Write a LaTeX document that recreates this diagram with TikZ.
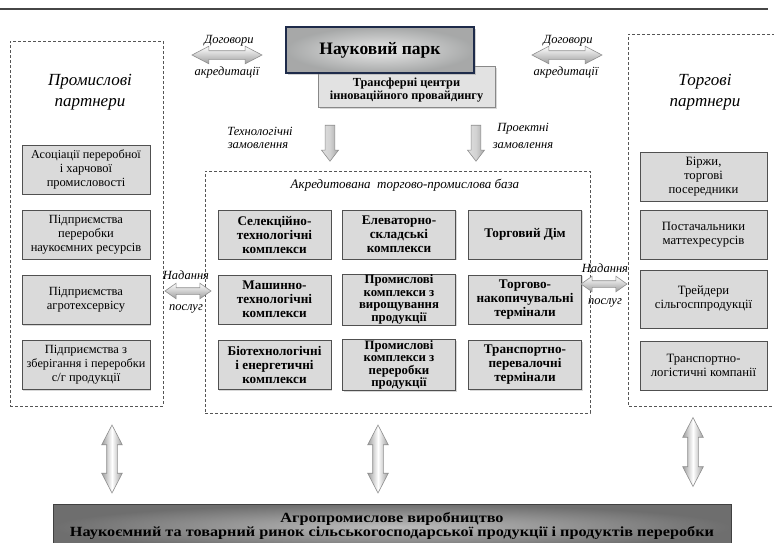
\documentclass[tikz,border=0pt]{standalone}
\usepackage{fontspec}
\setmainfont{Liberation Serif}
\usetikzlibrary{shapes.arrows,shadows}
\definecolor{boxfill}{HTML}{DADADA}
\definecolor{boxline}{HTML}{505050}
\definecolor{navy}{HTML}{1E2B4A}
\definecolor{dashcol}{HTML}{555555}
\definecolor{arrowline}{HTML}{8F8F8F}
\definecolor{arrowdark}{HTML}{9E9E9E}
\definecolor{basedark}{HTML}{6E6E6E}
\definecolor{scifill}{HTML}{C4C6C6}
\definecolor{trfill}{HTML}{E2E2E2}
\newcommand{\stk}[1]{\begin{tabular}{@{}c@{}}#1\end{tabular}}
\tikzset{
 gbox/.style={draw=boxline, line width=0.8pt, fill=boxfill, align=center, inner sep=1pt,
   drop shadow={shadow xshift=1.2pt, shadow yshift=-1.2pt, opacity=0.3}},
 cbox/.style={gbox, minimum width=113pt, minimum height=49pt, font=\fontsize{13.2}{14}\selectfont\bfseries},
 cboxf/.style={cbox, font=\fontsize{12.8}{12.4}\selectfont\bfseries},
 lbox/.style={gbox, minimum width=128pt, minimum height=49pt, font=\fontsize{12.5}{14}\selectfont},
 rbox/.style={gbox, minimum width=127pt, minimum height=49pt, font=\fontsize{12.7}{14}\selectfont},
 zone/.style={draw=dashcol, dash pattern=on 3pt off 2pt, line width=0.7pt, inner sep=0pt},
 lbl/.style={font=\fontsize{12.5}{14}\selectfont\itshape, inner sep=0pt},
 ptitle/.style={font=\fontsize{17}{21}\selectfont\itshape, align=center, inner sep=0pt},
 harrow/.style={double arrow, draw=arrowline, line width=0.6pt, top color=white, bottom color=arrowdark,
   inner xsep=0pt, inner ysep=4pt, double arrow head extend=4.5pt, minimum width=17pt, double arrow tip angle=55},
 varrow/.style={double arrow, shape border rotate=90, draw=arrowline, line width=0.6pt,
   left color=arrowdark, right color=arrowdark, middle color=white,
   inner xsep=5pt, inner ysep=0pt, double arrow head extend=5pt, minimum width=20pt, double arrow tip angle=55},
 darrow/.style={single arrow, shape border rotate=270, draw=arrowline, line width=0.6pt,
   left color=gray!25, right color=gray!70, middle color=gray!35,
   inner xsep=4.5pt, inner ysep=0pt, single arrow head extend=3.5pt, minimum width=17pt, single arrow tip angle=75},
 sarrow/.style={double arrow, draw=arrowline, line width=0.6pt, top color=white, bottom color=arrowdark,
   inner xsep=0pt, inner ysep=3pt, double arrow head extend=4.5pt, minimum width=15pt, double arrow tip angle=70},
}
\begin{document}
\begin{tikzpicture}[x=1pt,y=-1pt]
\useasboundingbox (0,0) rectangle (774,542);
\clip (0,0) rectangle (774,542);
\fill[white] (0,0) rectangle (774,542);
% top rule
\coordinate (ruleL) at (0,9);
\coordinate (ruleR) at (768,9);
\draw[gray!55!black, line width=1.2pt] (ruleL) -- (ruleR);

% dashed zones
\node[zone, minimum width=153pt, minimum height=365pt] (zoneL) at (86.5,223.5) {};
\node[zone, minimum width=385pt, minimum height=242pt] (zoneC) at (397.5,292) {};
\coordinate (zoneRa) at (800,34);
\coordinate (zoneRb) at (628,34);
\coordinate (zoneRc) at (628,406);
\coordinate (zoneRd) at (800,406);
\draw[zone] (zoneRa) -- (zoneRb) -- (zoneRc) -- (zoneRd);

% science park
\node[draw=trfill!60!black, line width=0.8pt, fill=trfill, minimum width=177pt, minimum height=41pt,
  inner sep=0pt, drop shadow={shadow xshift=1.5pt, shadow yshift=-1.5pt, opacity=0.3}] (transfer) at (406.5,86.5)
  {\raisebox{-7pt}[0pt][0pt]{\fontsize{12.3}{13}\selectfont\bfseries\stk{Трансферні центри\\інноваційного провайдингу}}};
\node[draw=navy, line width=2.2pt, inner color=gray!18, outer color=scifill!85!black, minimum width=188pt, minimum height=46pt,
  font=\fontsize{17.5}{20}\selectfont\bfseries, drop shadow={shadow xshift=2pt, shadow yshift=-2pt, opacity=0.35}] (park) at (380,50) {Науковий парк};

% contract arrows
\node[harrow, minimum height=70pt] (contrL) at (227,55) {};
\node[harrow, minimum height=70pt] (contrR) at (567,55) {};
\node[lbl] (contrLt) at (229,41) {Договори};
\node[lbl] (contrLb) at (227,72) {акредитації};
\node[lbl] (contrRt) at (568,41) {Договори};
\node[lbl] (contrRb) at (566,72) {акредитації};

% order arrows
\node[darrow, minimum height=36pt] (ordL) at (330,140) {};
\node[darrow, minimum height=36pt] (ordR) at (476,140) {};
\node[lbl] (ordLt) at (260,131) {Технологічні};
\node[lbl] (ordLb) at (258,146) {замовлення};
\node[lbl] (ordRt) at (523,129) {Проектні};
\node[lbl] (ordRb) at (523,146) {замовлення};

% partner titles
\node[ptitle] (ptL) at (90,92) {Промислові\\партнери};
\node[ptitle] (ptR) at (705,92) {Торгові\\партнери};
\node[font=\fontsize{13}{14}\selectfont\itshape, inner sep=0pt] (ztitle) at (405,185) {Акредитована\ \ торгово-промислова база};

% left boxes
\node[lbox] (L1) at (86,169.5) {{\fontsize{12.2}{14}\selectfont Асоціації переробної}\\і харчової\\промисловості};
\node[lbox] (L2) at (86,234.5) {Підприємства\\переробки\\наукоємних ресурсів};
\node[lbox] (L3) at (86,300) {Підприємства\\агротехсервісу};
\node[lbox] (L4) at (86,365) {Підприємства з\\{\fontsize{12.2}{14}\selectfont зберігання і переробки}\\с/г продукції};

% centre boxes
\node[cbox] (C11) at (274.5,234.5) {Селекційно-\\технологічні\\комплекси};
\node[cbox] (C12) at (399,234.5) {Елеваторно-\\складські\\комплекси};
\node[cbox] (C13) at (525,234.5) {Торговий Дім};
\node[cbox] (C21) at (274.5,299.5) {Машинно-\\технологічні\\комплекси};
\node[cboxf] (C22) at (399,299.5) {Промислові\\комплекси з\\вирощування\\продукції};
\node[cbox] (C23) at (525,299.5) {Торгово-\\накопичувальні\\термінали};
\node[cbox] (C31) at (274.5,365) {Біотехнологічні\\і енергетичні\\комплекси};
\node[cboxf] (C32) at (399,365) {Промислові\\комплекси з\\переробки\\продукції};
\node[cbox] (C33) at (525,365) {Транспортно-\\перевалочні\\термінали};

% right boxes
\node[rbox] (R1) at (703.5,176.5) {Біржи,\\торгові\\посередники};
\node[rbox] (R2) at (703.5,234.5) {Постачальники\\маттехресурсів};
\node[rbox, minimum height=58pt] (R3) at (703.5,299) {Трейдери\\сільгосппродукції};
\node[rbox] (R4) at (703.5,365.5) {Транспортно-\\логістичні компанії};

% service arrows
\node[sarrow, minimum height=46pt] (servL) at (188,291) {};
\node[sarrow, minimum height=46pt] (servR) at (604,284) {};
\node[lbl] (servLt) at (186,275) {Надання};
\node[lbl] (servLb) at (186,309) {послуг};
\node[lbl] (servRt) at (605,268) {Надання};
\node[lbl] (servRb) at (605,303) {послуг};

% vertical arrows
\node[varrow, minimum height=68pt] (vL) at (112,459) {};
\node[varrow, minimum height=68pt] (vC) at (378,459) {};
\node[varrow, minimum height=69pt] (vR) at (693,452) {};

% bottom box
\node[draw=black!75, line width=0.8pt, inner color=gray!52, outer color=basedark, minimum width=678pt, minimum height=46pt,
  inner sep=0pt] (agro) at (392,527)
  {\raisebox{-3pt}[0pt][0pt]{\scalebox{1.16}[1]{\fontsize{14}{12.5}\selectfont\bfseries\stk{Агропромислове виробництво\\Наукоємний та товарний ринок сільськогосподарської продукції і продуктів переробки}}}};
\end{tikzpicture}
\end{document}
